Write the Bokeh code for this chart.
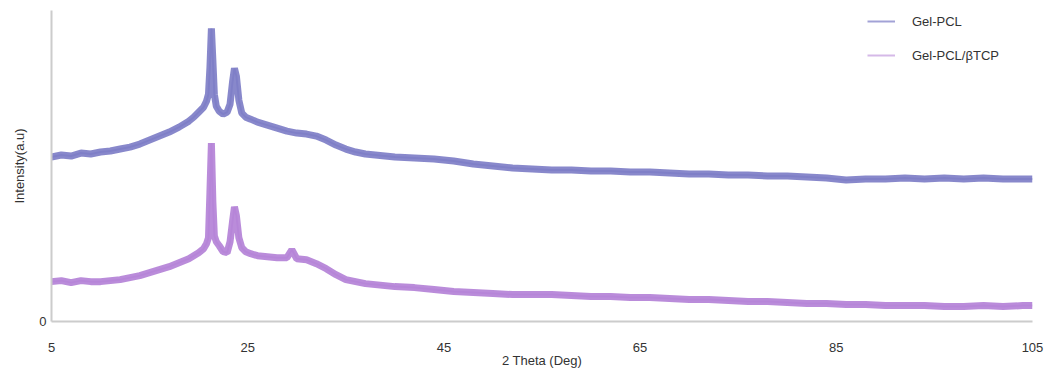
from bokeh.plotting import figure
from bokeh.models import ColumnDataSource, FixedTicker, Legend, LegendItem, Range1d
from bokeh.embed import file_html
from bokeh.resources import INLINE

theta = [5, 6, 7, 8, 9, 10, 11, 12, 13, 14, 15, 16, 17, 18, 19, 19.5, 20, 20.5, 20.8, 21.0,
         21.15, 21.3, 21.45, 21.6, 21.8, 22.1, 22.5, 22.9, 23.2, 23.45, 23.65, 23.85, 24.1, 24.4,
         24.8, 25.3, 26, 27, 28, 29, 29.5, 30, 31, 32, 33, 34, 35, 36, 37, 38, 39, 40, 42, 44,
         46, 48, 50, 52, 54, 56, 58, 60, 62, 64, 66, 68, 70, 72, 74, 76, 78, 80, 82, 84, 86, 88,
         90, 92, 94, 96, 98, 100, 102, 104, 105]

gel_pcl = [165, 167, 166, 169, 168, 170, 171, 173, 175, 178, 182, 186, 190, 195, 201, 205, 210,
           215, 221, 228, 255, 294, 262, 228, 216, 211, 208, 210, 218, 240, 254, 246, 222, 209,
           205, 203, 200, 197, 194, 191, 190, 189, 188, 186, 182, 177, 173, 170, 168, 167, 166,
           165, 164, 163, 161, 158, 156, 154, 153, 152, 152, 151, 151, 150, 150, 149, 148, 148,
           147, 147, 146, 146, 145, 144, 142, 143, 143, 144, 143, 144, 143, 144, 143, 143, 143]

gel_pcl_tcp = [40, 41, 39, 41, 40, 40, 41, 42, 44, 46, 49, 52, 55, 59, 63, 66, 69, 73, 78, 84,
               130, 179, 120, 86, 80, 76, 70, 69, 80, 100, 115, 106, 84, 74, 70, 68, 66, 65, 64,
               64, 72, 63, 62, 58, 53, 47, 42, 40, 38, 37, 36, 35, 34, 32, 30, 29, 28, 27, 27,
               27, 26, 25, 25, 24, 24, 23, 22, 22, 21, 20, 20, 19, 18, 18, 17, 17, 16, 16, 16,
               15, 15, 16, 15, 16, 16]

series_names = ["Gel-PCL", "Gel-PCL/\u03b2TCP"]
x_ticks = [5, 25, 45, 65, 85, 105]
y_ticks = [0]

blue = "#7b7bc5"
purple = "#b27fd6"
font = "Liberation Sans"
txt = "#333333"

src = ColumnDataSource(dict(theta=theta, a=gel_pcl, b=gel_pcl_tcp))

p = figure(width=1050, height=370, output_backend="svg", toolbar_location=None,
           x_range=Range1d(5, 105), y_range=Range1d(0, 312),
           min_border_left=51, min_border_right=18, min_border_top=10, min_border_bottom=33)
p.outline_line_color = None
p.grid.visible = False
p.background_fill_color = "white"

# thin legend-only lines (hidden under the thick band)
la = p.line("theta", "a", source=src, color=blue, line_width=2, alpha=0.7)
lb = p.line("theta", "b", source=src, color=purple, line_width=2, alpha=0.55)
p.line("theta", "a", source=src, color=blue, line_width=7, alpha=0.9)
p.line("theta", "b", source=src, color=purple, line_width=7, alpha=0.9)

for ax in (p.xaxis[0], p.yaxis[0]):
    ax.axis_line_color = "#cccccc"
    ax.axis_line_width = 2
    ax.major_tick_line_color = None
    ax.minor_tick_line_color = None
    ax.major_tick_out = 0
    ax.major_tick_in = 0
    ax.major_label_text_font = font
    ax.major_label_text_font_size = "13px"
    ax.major_label_text_color = txt
    ax.axis_label_text_font = font
    ax.axis_label_text_font_size = "13px"
    ax.axis_label_text_font_style = "normal"
    ax.axis_label_text_color = txt

p.xaxis.ticker = FixedTicker(ticks=x_ticks)
p.xaxis.major_label_standoff = 21
p.xaxis.axis_label = "2 Theta (Deg)"
p.xaxis.axis_label_standoff = -2

p.yaxis.ticker = FixedTicker(ticks=y_ticks)
p.yaxis.major_label_standoff = 5
p.yaxis.axis_label = "Intensity(a.u)"
p.yaxis.axis_label_standoff = 9

legend = Legend(items=[LegendItem(label=series_names[0], renderers=[la]),
                       LegendItem(label=series_names[1], renderers=[lb])],
                location=(816, 256), padding=0, spacing=14, glyph_width=28, glyph_height=20,
                label_standoff=17, border_line_color=None, background_fill_alpha=0,
                label_text_font=font, label_text_font_size="13px", label_text_color=txt)
p.add_layout(legend)

open("out.html", "w").write(file_html(p, INLINE))
